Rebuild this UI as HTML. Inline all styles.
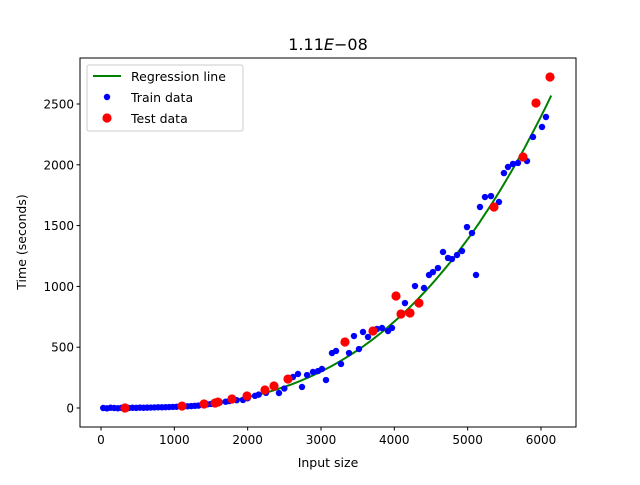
<!DOCTYPE html>
<html><head><meta charset="utf-8"><style>
body{margin:0;background:#fff}
text{font-family:"DejaVu Sans","Liberation Sans",sans-serif}
</style></head><body>
<svg id="chart" width="640" height="480" xmlns="http://www.w3.org/2000/svg">
<rect width="640" height="480" fill="#fff"/>
</svg>
<script>
const trainX=[30,80,130,180,230,280,380,430,480,530,580,630,680,730,780,830,880,930,980,1030,1130,1180,1230,1280,1330,1450,1500,1620,1700,1750,1850,1936,2000,2100,2150,2250,2427,2500,2618,2686,2741,2810,2891,2960,3013,3068,3150,3205,3273,3382,3450,3518,3573,3641,3764,3832,3914,3968,4145,4282,4405,4473,4527,4595,4664,4732,4786,4855,4923,4991,5059,5114,5168,5236,5318,5427,5495,5550,5618,5686,5809,5891,6014,6068];
const trainY=[0,-3,2,0,-2,1,0,2,1,3,2,3,4,5,6,6,7,8,9,10,13,14,16,18,20,30,33,45,52,57,64,66,80,100,110,125,123,160,255,280,173,271,296,304,321,230,452,469,362,452,592,485,625,584,650,658,633,658,863,1003,987,1094,1118,1151,1283,1234,1225,1258,1291,1488,1439,1094,1653,1735,1743,1694,1932,1982,2007,2015,2031,2229,2311,2393];
const testX=[327,1105,1405,1555,1595,1786,1991,2236,2359,2550,3327,3709,4023,4091,4214,4336,5359,5755,5932,6123];
const testY=[0,16,33,41,49,74,99,148,181,238,543,633,921,773,781,863,1653,2064,2508,2722];
const coef=1.11e-8;
const xTicks=[0,1000,2000,3000,4000,5000,6000];
const yTicks=[0,500,1000,1500,2000,2500];
const L=80,R=576,T=58,B=427;
const sx=v=>101+v*0.07333;
const sy=v=>408-v*0.1216;
const NS="http://www.w3.org/2000/svg";
const svg=document.getElementById('chart');
function mk(t,a,p){const e=document.createElementNS(NS,t);for(const k in a)e.setAttribute(k,a[k]);(p||svg).appendChild(e);return e;}
let d="";
for(let i=0;i<=100;i++){const x=30+(6140-30)*i/100;d+=(i?"L":"M")+sx(x).toFixed(1)+","+sy(coef*x*x*x).toFixed(1);}
const line=mk('path',{d:d,fill:'none',stroke:'#008000','stroke-width':2});


trainX.forEach((x,i)=>{const c=mk('circle',{cx:sx(x),cy:sy(trainY[i]),r:3.2,fill:'#0000ff'});

});
testX.forEach((x,i)=>{const c=mk('circle',{cx:sx(x),cy:sy(testY[i]),r:4.6,fill:'#ff0000'});

});
const frame=mk('rect',{x:L,y:T,width:R-L,height:B-T,fill:'none',stroke:'#000','stroke-width':1});


xTicks.forEach(v=>{const x=sx(v);mk('line',{x1:x,x2:x,y1:B,y2:B+3.5,stroke:'#000'});
const t=mk('text',{x:x,y:B+17,'font-size':12,'text-anchor':'middle'});t.textContent=v;

});
yTicks.forEach(v=>{const y=sy(v);mk('line',{x1:L-3.5,x2:L,y1:y,y2:y,stroke:'#000'});
const t=mk('text',{x:L-6,y:y+4.5,'font-size':12,'text-anchor':'end'});t.textContent=v;

});
</script>
<svg style="position:absolute;left:0;top:0" width="640" height="480" xmlns="http://www.w3.org/2000/svg">
<text x="328" y="50" font-size="16" text-anchor="middle">1.11<tspan font-style="italic">E</tspan>−08</text>
<text x="328" y="467" font-size="12.5" text-anchor="middle">Input size</text>
<text transform="translate(26,242) rotate(-90)" font-size="12.5" text-anchor="middle">Time (seconds)</text>
<g>
<rect x="87" y="65" width="156" height="66" rx="2" fill="#fff" fill-opacity="0.8" stroke="#ccc"/>
<line x1="93" x2="121" y1="76" y2="76" stroke="#008000" stroke-width="2"/>
<text x="131" y="81" font-size="12.5">Regression line</text>
<circle cx="107" cy="97" r="3.2" fill="#0000ff"/>
<text x="131" y="102" font-size="12.5">Train data</text>
<circle cx="107" cy="118" r="4.6" fill="#ff0000"/>
<text x="131" y="123" font-size="12.5">Test data</text>
</g>
</svg>
</body></html>
